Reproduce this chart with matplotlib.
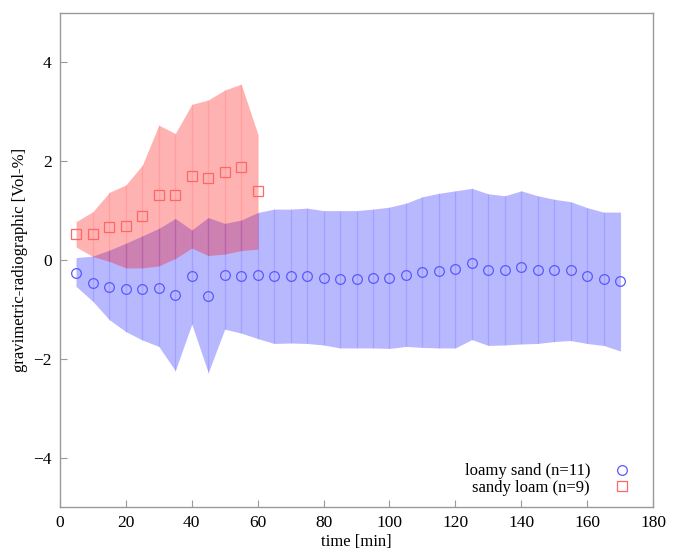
import matplotlib
matplotlib.use('Agg')
import matplotlib.pyplot as plt
import numpy as np

plt.rcParams['font.family'] = ['Liberation Serif', 'DejaVu Serif']

# loamy sand (n=11), every 5 min
t_ls = list(range(5, 175, 5))
mean_ls = [-0.26, -0.46, -0.55, -0.59, -0.58, -0.57, -0.71, -0.32, -0.72, -0.31,
           -0.32, -0.31, -0.33, -0.33, -0.33, -0.37, -0.38, -0.38, -0.37, -0.36,
           -0.30, -0.24, -0.22, -0.18, -0.06, -0.20, -0.20, -0.14, -0.20, -0.20,
           -0.21, -0.32, -0.38, -0.43]
upper_ls = [0.05, 0.08, 0.20, 0.34, 0.49, 0.64, 0.84, 0.61, 0.86, 0.74,
            0.81, 0.96, 1.03, 1.03, 1.05, 1.00, 1.00, 1.00, 1.03, 1.07,
            1.15, 1.28, 1.35, 1.40, 1.45, 1.34, 1.30, 1.40, 1.30, 1.23,
            1.18, 1.06, 0.97, 0.97]
lower_ls = [-0.54, -0.84, -1.21, -1.45, -1.62, -1.75, -2.24, -1.30, -2.28, -1.40,
            -1.48, -1.59, -1.69, -1.68, -1.69, -1.72, -1.78, -1.78, -1.78, -1.79,
            -1.75, -1.77, -1.78, -1.78, -1.61, -1.73, -1.72, -1.70, -1.69, -1.65,
            -1.63, -1.69, -1.73, -1.84]

# sandy loam (n=9)
t_sl = list(range(5, 65, 5))
mean_sl = [0.53, 0.53, 0.66, 0.69, 0.89, 1.32, 1.32, 1.70, 1.67, 1.78, 1.88, 1.40]
upper_sl = [0.78, 0.98, 1.37, 1.52, 1.92, 2.73, 2.56, 3.15, 3.24, 3.44, 3.56, 2.56]
lower_sl = [0.26, 0.07, -0.03, -0.16, -0.16, -0.12, 0.03, 0.24, 0.09, 0.12, 0.19, 0.22]

fig = plt.figure(figsize=(6.79, 5.5), dpi=100)
ax = fig.add_axes([60/679, 43/550, 593/679, 494/550])

blue = (0.0, 0.0, 1.0)
red = (1.0, 0.0, 0.0)

# bands, with the thin vertical seams at every sample
ax.fill_between(t_ls, lower_ls, upper_ls, color=blue, alpha=0.28, linewidth=0)
ax.vlines(t_ls, lower_ls, upper_ls, color=blue, alpha=0.12, linewidth=0.9)
ax.fill_between(t_sl, lower_sl, upper_sl, color=red, alpha=0.3, linewidth=0)
ax.vlines(t_sl, lower_sl, upper_sl, color=red, alpha=0.1, linewidth=0.9)

ax.plot(t_ls, mean_ls, 'o', ms=7, mfc='none', mec=(0.35, 0.35, 1.0), mew=0.9,
        label='loamy sand (n=11)')
ax.plot(t_sl, mean_sl, 's', ms=6.7, mfc='none', mec=(1.0, 0.4, 0.4), mew=0.9,
        label='sandy loam (n=9)')

ax.set_xlim(0, 180)
ax.set_ylim(-5, 5)
ax.set_xticks(np.arange(0, 181, 20))
ax.set_yticks([-4, -2, 0, 2, 4])
ax.set_yticklabels(['\u22124', '\u22122', '0', '2', '4'])

for s in ax.spines.values():
    s.set_color('#9a9a9a')
    s.set_linewidth(1.0)
ax.tick_params(direction='in', length=5, color='#9a9a9a', labelsize=12.5,
               top=False, right=False, pad=6)

ax.set_xlabel('time [min]', fontsize=12, labelpad=2)
ax.set_ylabel('gravimetric-radiographic [Vol-%]', fontsize=12, labelpad=4)

ax.legend(loc='lower right', frameon=False, markerfirst=False, fontsize=12,
          handletextpad=0.9, labelspacing=0.05, borderaxespad=0.3,
          bbox_to_anchor=(0.995, -0.002))

fig.savefig('out.png', dpi=100)
